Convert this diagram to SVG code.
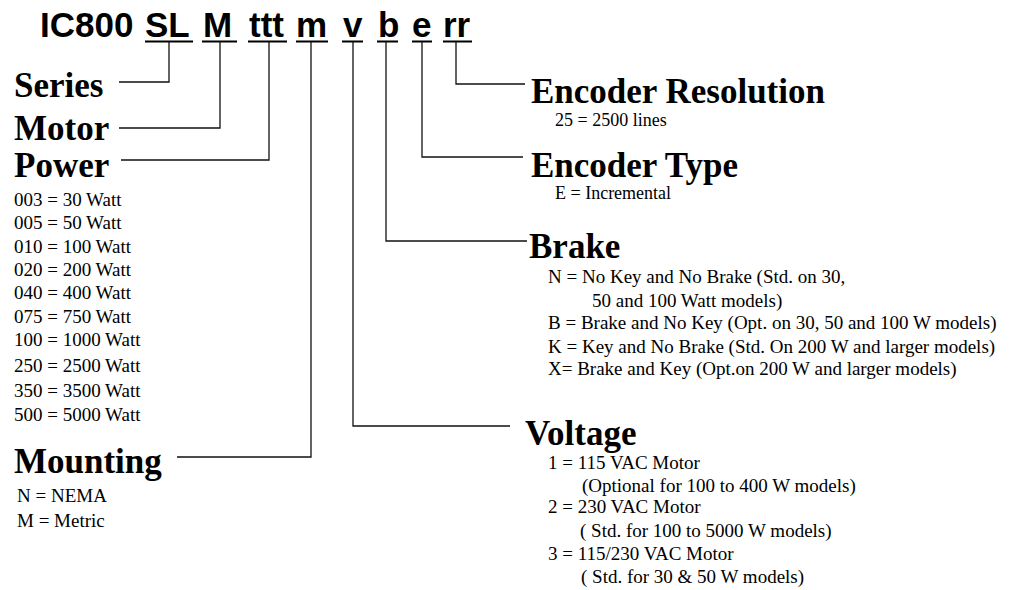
<svg xmlns="http://www.w3.org/2000/svg" width="1010" height="590" viewBox="0 0 1010 590">
<style>
.code{font-family:"Liberation Sans",Arial,sans-serif;font-weight:bold;font-size:35px;fill:#000}
.h{font-family:"Liberation Serif","Times New Roman",serif;font-weight:bold;font-size:35px;fill:#000}
.t{font-family:"Liberation Serif","Times New Roman",serif;font-size:19px;fill:#000}
.s{font-family:"Liberation Serif","Times New Roman",serif;font-size:18px;fill:#000}
.ul{stroke:#000;stroke-width:2;fill:none}
.c{stroke:#111;stroke-width:1.3;fill:none}
</style>
<rect width="1010" height="590" fill="#fff"/>
<g id="code">
<text class="code" x="40" y="37">IC800</text>
<text class="code" x="145" y="37">SL</text>
<text class="code" x="203" y="37">M</text>
<text class="code" x="249" y="37">ttt</text>
<text class="code" x="296" y="37">m</text>
<text class="code" x="343" y="37">v</text>
<text class="code" x="378" y="37">b</text>
<text class="code" x="412" y="37">e</text>
<text class="code" x="443" y="37">rr</text>
<path class="ul" d="M145 41.5H193M202 41.5H237M248 41.5H287M296 41.5H328M342 41.5H363M377 41.5H398M412 41.5H432M443 41.5H472"/>
</g>
<g id="connectors">
<path class="c" d="M169 42V82H119"/>
<path class="c" d="M220 42V128H119"/>
<path class="c" d="M269 42V160H121"/>
<path class="c" d="M311 42V457H177"/>
<path class="c" d="M353 42V426H510"/>
<path class="c" d="M386 42V241H527"/>
<path class="c" d="M422 42V157H523"/>
<path class="c" d="M456 42V84H525"/>
</g>
<g id="series"><text class="h" x="14" y="97">Series</text></g>
<g id="motor"><text class="h" x="14" y="140">Motor</text></g>
<g id="power">
<text class="h" x="14" y="177">Power</text>
<text class="t" x="14" y="206">003 = 30 Watt</text>
<text class="t" x="14" y="229">005 = 50 Watt</text>
<text class="t" x="14" y="253">010 = 100 Watt</text>
<text class="t" x="14" y="276">020 = 200 Watt</text>
<text class="t" x="14" y="299">040 = 400 Watt</text>
<text class="t" x="14" y="323">075 = 750 Watt</text>
<text class="t" x="14" y="346">100 = 1000 Watt</text>
<text class="t" x="14" y="372">250 = 2500 Watt</text>
<text class="t" x="14" y="397">350 = 3500 Watt</text>
<text class="t" x="14" y="421">500 = 5000 Watt</text>
</g>
<g id="mounting">
<text class="h" x="14" y="473">Mounting</text>
<text class="t" x="17" y="502">N = NEMA</text>
<text class="t" x="17" y="527">M = Metric</text>
</g>
<g id="encoder-resolution">
<text class="h" x="531" y="103">Encoder Resolution</text>
<text class="s" x="555" y="126">25 = 2500 lines</text>
</g>
<g id="encoder-type">
<text class="h" x="531" y="177">Encoder Type</text>
<text class="s" x="555" y="199">E = Incremental</text>
</g>
<g id="brake">
<text class="h" x="529" y="258">Brake</text>
<text class="t" x="548" y="283">N = No Key and No Brake (Std. on 30,</text>
<text class="t" x="592" y="307">50 and 100 Watt models)</text>
<text class="t" x="548" y="329">B = Brake and No Key (Opt. on 30, 50 and 100 W models)</text>
<text class="t" x="548" y="353">K = Key and No Brake (Std. On 200 W and larger models)</text>
<text class="t" x="548" y="375">X= Brake and Key (Opt.on 200 W and larger models)</text>
</g>
<g id="voltage">
<text class="h" x="525" y="445">Voltage</text>
<text class="t" x="548" y="469">1 = 115 VAC Motor</text>
<text class="t" x="582" y="492">(Optional for 100 to 400 W models)</text>
<text class="t" x="548" y="513">2 = 230 VAC Motor</text>
<text class="t" x="580" y="537">( Std. for 100 to 5000 W models)</text>
<text class="t" x="548" y="560">3 = 115/230 VAC Motor</text>
<text class="t" x="581" y="583">( Std. for 30 &amp; 50 W models)</text>
</g>
</svg>
